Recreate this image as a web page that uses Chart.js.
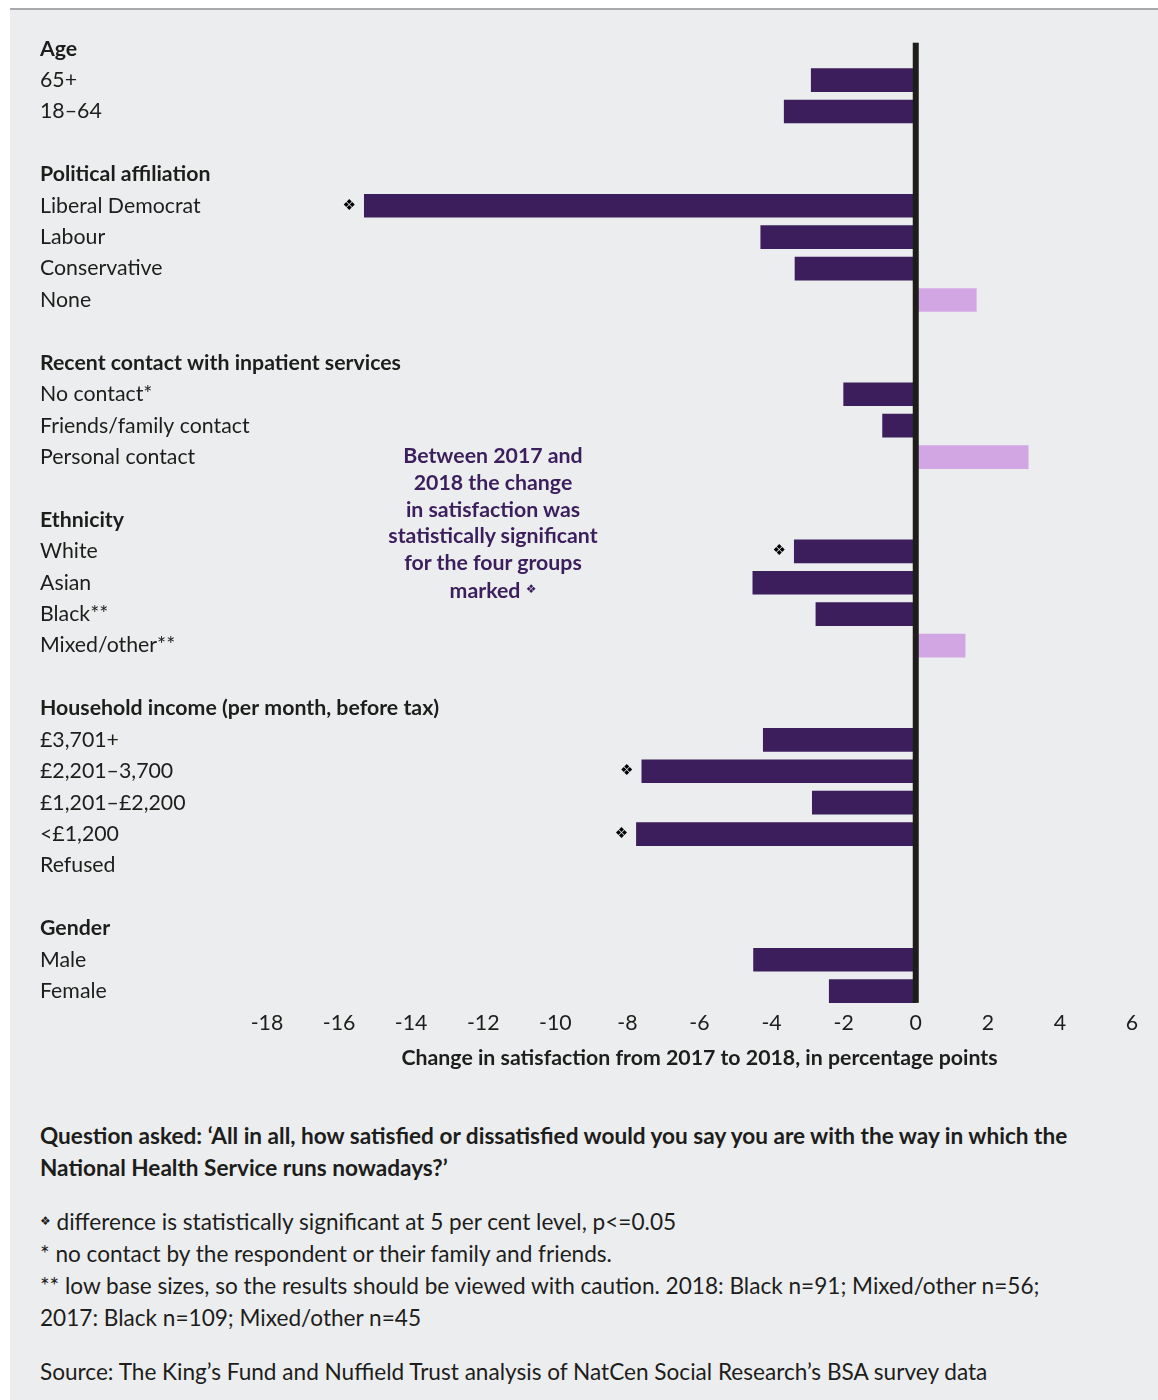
<!DOCTYPE html>
<html>
<head>
<meta charset="utf-8">
<script src="https://cdn.jsdelivr.net/npm/chart.js@4.4.0/dist/chart.umd.min.js"></script>
<style>
  body { margin: 0; background: #fff; font-family: Lato, sans-serif; color: #1d1d1b; }
  #panel { position: absolute; left: 10px; top: 8px; width: 1148px; height: 1392px;
           background: #ecedef; border-top: 2px solid #a9aaad; }
  #chartBox { position: absolute; left: 0; top: 0; width: 1158px; height: 1073px; }
  #note { position: absolute; left: 343px; top: 442px; width: 300px; text-align: center;
          color: #3b1f5c; font-weight: bold; font-size: 21.3px; line-height: 26.8px; }
  #notes { position: absolute; left: 40px; top: 1120px; width: 1110px; font-size: 22.6px; line-height: 32px; white-space: nowrap; }
  #notes p { margin: 0; }
  .diam { font-family: "DejaVu Sans"; font-size: 12px; vertical-align: 5px; }
</style>
</head>
<body>
<div id="panel"></div>
<div id="chartBox"><canvas id="chgCanvas" width="1158" height="1073"></canvas></div>
<div id="note">Between 2017 and<br>2018 the change<br>in satisfaction was<br>statistically significant<br>for the four groups<br>marked <span class="diam">❖</span></div>
<div id="notes">
  <p><b>Question asked: ‘All in all, how satisfied or dissatisfied would you say you are with the way in which the<br>National Health Service runs nowadays?’</b></p>
  <p style="margin-top:21px"><span class="diam">❖</span> difference is statistically significant at 5 per cent level, p&lt;=0.05</p>
  <p>* no contact by the respondent or their family and friends.</p>
  <p>** low base sizes, so the results should be viewed with caution. 2018: Black n=91; Mixed/other n=56;<br>2017: Black n=109; Mixed/other n=45</p>
  <p style="margin-top:22px">Source: The King’s Fund and Nuffield Trust analysis of NatCen Social Research’s BSA survey data</p>
</div>
<script>
// rows, top to bottom ("" = spacer row)
var rowLabels = [
  "Age", "65+", "18–64", "",
  "Political affiliation", "Liberal Democrat", "Labour", "Conservative", "None", "",
  "Recent contact with inpatient services", "No contact*", "Friends/family contact", "Personal contact", "",
  "Ethnicity", "White", "Asian", "Black**", "Mixed/other**", "",
  "Household income (per month, before tax)", "£3,701+", "£2,201–3,700", "£1,201–£2,200", "<£1,200", "Refused", "",
  "Gender", "Male", "Female"
];
var headers = ["Age", "Political affiliation", "Recent contact with inpatient services", "Ethnicity",
  "Household income (per month, before tax)", "Gender"];
// change in satisfaction, percentage points
var changeValues = [
  null, -2.9, -3.65, null,
  null, -15.3, -4.3, -3.35, 1.68, null,
  null, -2.0, -0.92, 3.12, null,
  null, -3.37, -4.52, -2.77, 1.37, null,
  null, -4.23, -7.6, -2.87, -7.75, null, null,
  null, -4.5, -2.4
];
var significant = ["Liberal Democrat", "White", "£2,201–3,700", "<£1,200"];
var xTicks = [-18, -16, -14, -12, -10, -8, -6, -4, -2, 0, 2, 4, 6];

var darkPurple = "#3b1e5b";
var lightPurple = "#d1a6e3";

var labelsPlugin = {
  id: 'rowLabels',
  afterDraw: function(chart) {
    var ctx = chart.ctx;
    var y = chart.scales.y;
    var x = chart.scales.x;
    ctx.save();
    // zero line
    var zx = x.getPixelForValue(0);
    var top = y.getPixelForValue(0) - 6;
    ctx.fillStyle = "#1d1d1b";
    ctx.fillRect(zx - 3, top, 6, chart.chartArea.bottom - 4 - top);
    ctx.textBaseline = "middle";
    ctx.textAlign = "left";
    rowLabels.forEach(function(lab, i) {
      if (!lab) return;
      ctx.font = (headers.indexOf(lab) >= 0 ? "bold " : "") + "21.3px Lato";
      ctx.fillStyle = "#1d1d1b";
      ctx.fillText(lab, 40, y.getPixelForValue(i));
    });
    // significance markers
    var meta = chart.getDatasetMeta(0);
    ctx.font = "15px 'DejaVu Sans'";
    ctx.textAlign = "center";
    ctx.fillStyle = "#000";
    rowLabels.forEach(function(lab, i) {
      if (significant.indexOf(lab) < 0) return;
      var bar = meta.data[i];
      ctx.fillText("❖", bar.x - 15, bar.y);
    });
    ctx.restore();
  }
};

var ctx = document.getElementById("chgCanvas");
var chgChart = new Chart(ctx, {
  type: 'bar',
  data: {
    labels: rowLabels,
    datasets: [{
      data: changeValues,
      backgroundColor: changeValues.map(function(v) { return v > 0 ? lightPurple : darkPurple; }),
      barThickness: 23,
      borderWidth: 0
    }]
  },
  options: {
    indexAxis: 'y',
    responsive: false,
    animation: false,
    layout: { padding: { left: 267, right: 26, top: 33, bottom: 0 } },
    plugins: { legend: { display: false }, tooltip: { enabled: false } },
    scales: {
      y: { display: false },
      x: {
        min: -18, max: 6,
        afterBuildTicks: function(axis) { axis.ticks = xTicks.map(function(v) { return { value: v }; }); },
        grid: { display: false, drawTicks: false },
        border: { display: false },
        ticks: { color: "#1d1d1b", font: { family: "Lato", size: 21.3 }, padding: 3, maxRotation: 0 },
        title: {
          display: true,
          text: "Change in satisfaction from 2017 to 2018, in percentage points",
          color: "#1d1d1b",
          font: { family: "Lato", size: 21.3, weight: "bold" },
          padding: { top: 7, bottom: 2 }
        }
      }
    }
  },
  plugins: [labelsPlugin]
});
</script>
</body>
</html>
